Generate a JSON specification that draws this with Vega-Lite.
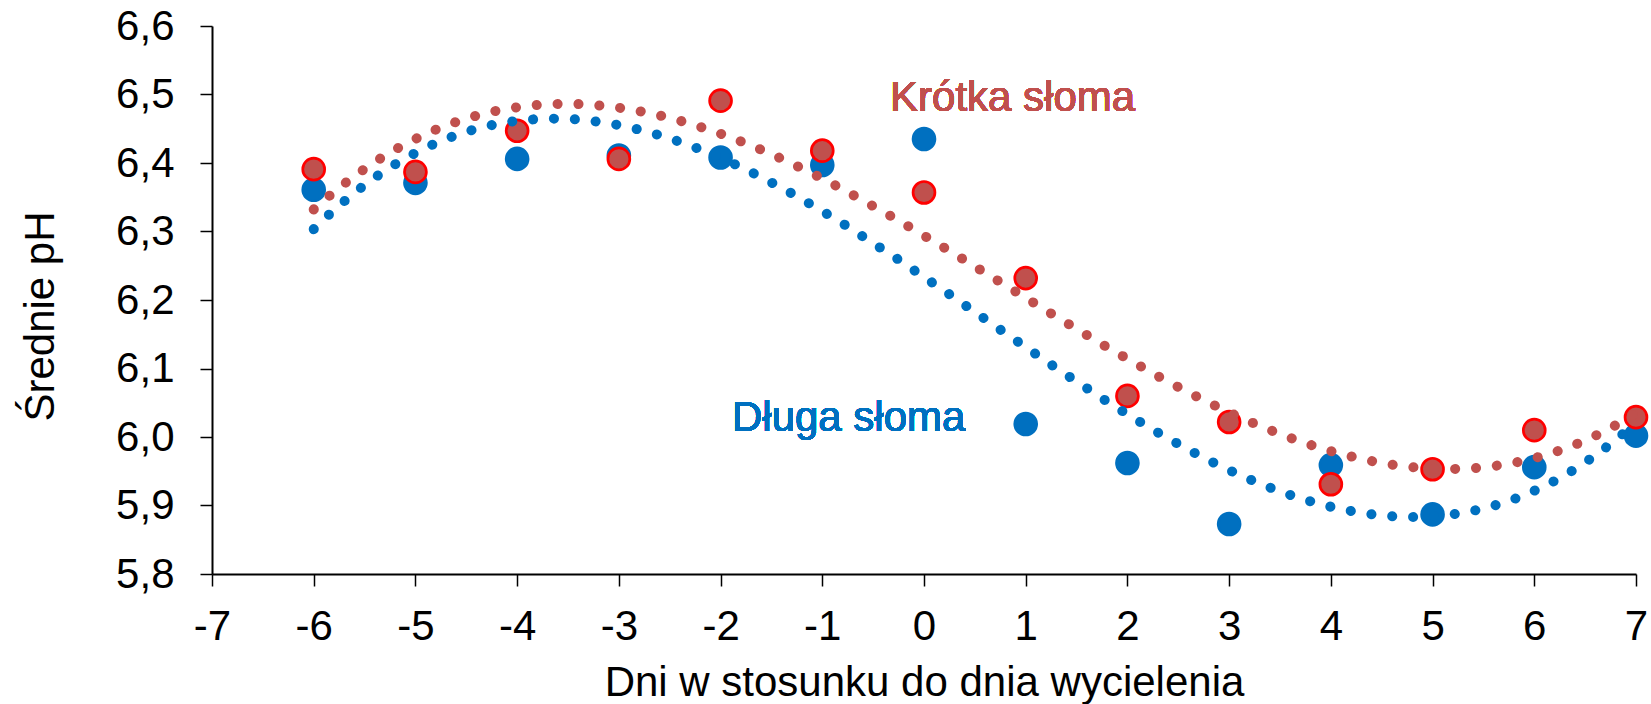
{
  "$schema": "https://vega.github.io/schema/vega-lite/v6.json",
  "width": 1424,
  "height": 548,
  "autosize": "none",
  "padding": {"left": 212, "top": 26, "right": 15, "bottom": 130},
  "background": "white",
  "config": {"view": {"stroke": null}, "font": "Liberation Sans"},
  "data": {
    "values": [
      {"day": -6, "ph": 6.361, "series": "Długa słoma"},
      {"day": -5, "ph": 6.371, "series": "Długa słoma"},
      {"day": -4, "ph": 6.406, "series": "Długa słoma"},
      {"day": -3, "ph": 6.411, "series": "Długa słoma"},
      {"day": -2, "ph": 6.408, "series": "Długa słoma"},
      {"day": -1, "ph": 6.397, "series": "Długa słoma"},
      {"day": 0, "ph": 6.435, "series": "Długa słoma"},
      {"day": 1, "ph": 6.019, "series": "Długa słoma"},
      {"day": 2, "ph": 5.962, "series": "Długa słoma"},
      {"day": 3, "ph": 5.873, "series": "Długa słoma"},
      {"day": 4, "ph": 5.959, "series": "Długa słoma"},
      {"day": 5, "ph": 5.887, "series": "Długa słoma"},
      {"day": 6, "ph": 5.956, "series": "Długa słoma"},
      {"day": 7, "ph": 6.002, "series": "Długa słoma"},
      {"day": -6, "ph": 6.391, "series": "Krótka słoma"},
      {"day": -5, "ph": 6.387, "series": "Krótka słoma"},
      {"day": -4, "ph": 6.447, "series": "Krótka słoma"},
      {"day": -3, "ph": 6.406, "series": "Krótka słoma"},
      {"day": -2, "ph": 6.491, "series": "Krótka słoma"},
      {"day": -1, "ph": 6.418, "series": "Krótka słoma"},
      {"day": 0, "ph": 6.357, "series": "Krótka słoma"},
      {"day": 1, "ph": 6.232, "series": "Krótka słoma"},
      {"day": 2, "ph": 6.060, "series": "Krótka słoma"},
      {"day": 3, "ph": 6.022, "series": "Krótka słoma"},
      {"day": 4, "ph": 5.931, "series": "Krótka słoma"},
      {"day": 5, "ph": 5.953, "series": "Krótka słoma"},
      {"day": 6, "ph": 6.010, "series": "Krótka słoma"},
      {"day": 7, "ph": 6.029, "series": "Krótka słoma"}
    ]
  },
  "encoding": {
    "x": {
      "field": "day", "type": "quantitative",
      "scale": {"domain": [-7, 7], "nice": false, "zero": false},
      "axis": {
        "title": "Dni w stosunku do dnia wycielenia",
        "values": [-7, -6, -5, -4, -3, -2, -1, 0, 1, 2, 3, 4, 5, 6, 7],
        "labelExpr": "'' + datum.value",
        "grid": false, "domainColor": "black", "domainWidth": 2,
        "tickColor": "black", "tickWidth": 1.5, "tickSize": 12,
        "labelFontSize": 42, "labelColor": "black", "labelPadding": 20,
        "labelFont": "Liberation Sans", "labelFlush": false, "labelOverlap": false,
        "titleFontSize": 42, "titleFontWeight": "normal", "titleColor": "black",
        "titleFont": "Liberation Sans", "titleBaseline": "alphabetic", "titleY": 121
      }
    },
    "y": {
      "field": "ph", "type": "quantitative",
      "scale": {"domain": [5.8, 6.6], "nice": false, "zero": false},
      "axis": {
        "title": "Średnie pH",
        "values": [5.8, 5.9, 6.0, 6.1, 6.2, 6.3, 6.4, 6.5, 6.6],
        "labelExpr": "replace(format(datum.value, '.1f'), '.', ',')",
        "grid": false, "domainColor": "black", "domainWidth": 2,
        "tickColor": "black", "tickWidth": 1.5, "tickSize": 12,
        "labelFontSize": 42, "labelColor": "black", "labelPadding": 26,
        "labelFont": "Liberation Sans", "labelFlush": false, "labelOverlap": false,
        "titleFontSize": 42, "titleFontWeight": "normal", "titleColor": "black",
        "titleFont": "Liberation Sans", "titleAngle": -90, "titleBaseline": "alphabetic",
        "titleAlign": "center", "titleX": -159, "titleY": 290
      }
    }
  },
  "layer": [
    {
      "mark": {"type": "point", "shape": "circle", "filled": true, "size": 480, "strokeWidth": 2.7, "opacity": 1},
      "encoding": {
        "fill": {"field": "series", "type": "nominal", "scale": {"domain": ["Długa słoma", "Krótka słoma"], "range": ["#0070C0", "#C0504D"]}, "legend": null},
        "stroke": {"field": "series", "type": "nominal", "scale": {"domain": ["Długa słoma", "Krótka słoma"], "range": ["#0070C0", "#FF0000"]}, "legend": null}
      }
    },
    {
      "transform": [
        {"regression": "ph", "on": "day", "groupby": ["series"], "method": "poly", "order": 3, "extent": [-6, 7]}
      ],
      "mark": {"type": "line", "strokeWidth": 10, "strokeCap": "round", "strokeDash": [0.1, 20.8]},
      "encoding": {
        "color": {"field": "series", "type": "nominal", "scale": {"domain": ["Długa słoma", "Krótka słoma"], "range": ["#0070C0", "#C0504D"]}, "legend": null}
      }
    },
    {
      "mark": {"type": "text", "text": "Krótka słoma", "align": "left", "baseline": "alphabetic", "fontSize": 42, "font": "Liberation Sans", "color": "#C0504D"},
      "encoding": {"x": {"datum": -0.334}, "y": {"datum": 6.476}}
    },
    {
      "mark": {"type": "text", "text": "Długa słoma", "align": "left", "baseline": "alphabetic", "fontSize": 42, "font": "Liberation Sans", "color": "#0070C0"},
      "encoding": {"x": {"datum": -1.888}, "y": {"datum": 6.009}}
    }
  ]
}
